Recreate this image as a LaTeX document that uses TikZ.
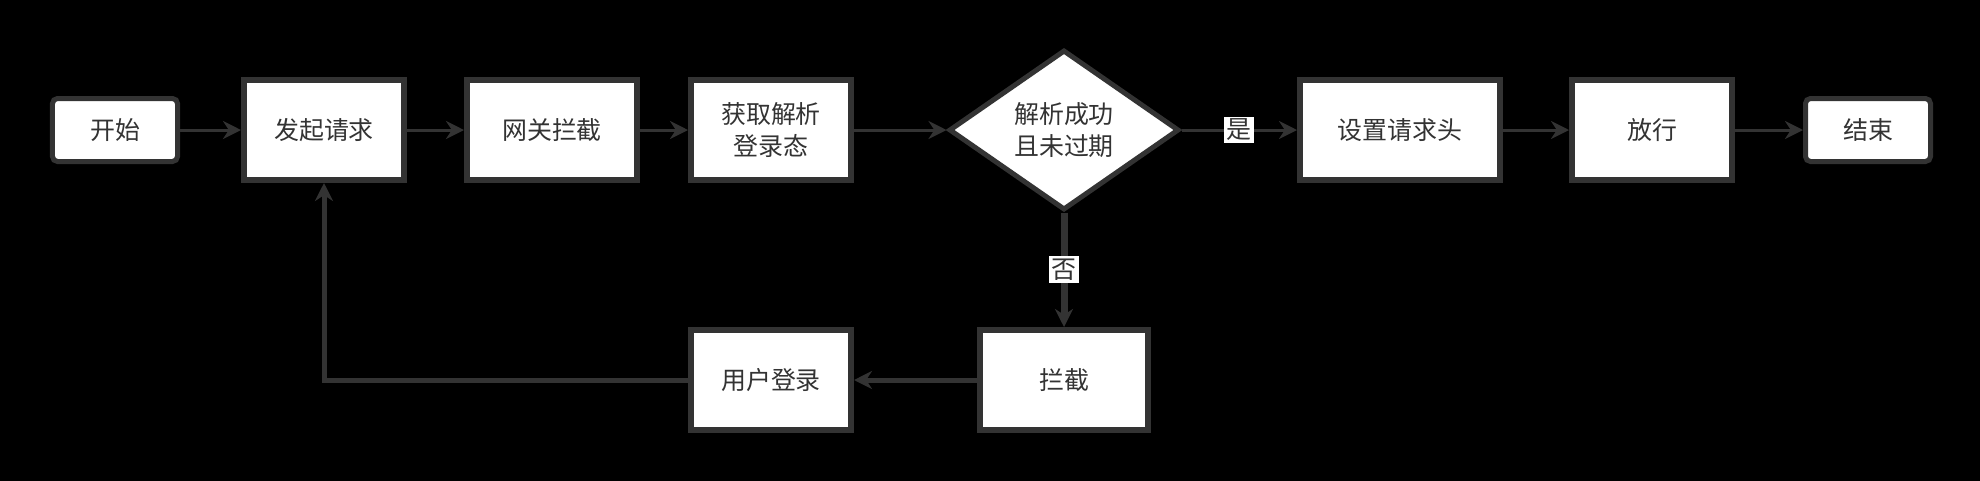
\documentclass[tikz,border=0pt]{standalone}
\usepackage{fontspec}
\setmainfont{Noto Sans CJK SC}
\usepackage{tikz}
\usetikzlibrary{shapes.geometric, shapes.misc, arrows, arrows.meta, calc}
\definecolor{linegray}{HTML}{333333}

\begin{document}
\begin{tikzpicture}[node distance=4.4cm, every node/.style={font=\fontsize{14.2pt}{18.2pt}\selectfont, text=linegray}]
%
% Skiss:
% 开始 -> 发起请求 -> 网关拦截 -> 获取解析登录态 -> 解析成功且未过期? -是-> 设置请求头 -> 放行 -> 结束
%            ʌ                                            |
%            |                                            否
%            |                                            V
%            -------------------------- 用户登录 <------ 拦截
%
\tikzstyle{startstop} = [rectangle, rounded corners=0.1cm, minimum width=2.5cm, minimum height=1.26cm, text centered, draw=linegray, fill=white, line width=0.1cm, align=center]
\tikzstyle{process} = [rectangle, minimum width=3.2cm, minimum height=2cm, text centered, draw=linegray, fill=white, line width=0.12cm, align=center]
\tikzstyle{decision} = [diamond, minimum width=4.6cm, minimum height=3.2cm, text centered, draw=linegray, fill=white, line width=0.1cm, align=center, inner sep=0pt]
\tikzstyle{arrow} = [line width=0.06cm, draw=linegray, ->, >={Stealth[length=0.36cm, width=0.36cm]}]
\tikzstyle{answer} = [fill=white, inner sep=0.05cm]
% Background
\useasboundingbox (-2.3,2.6) rectangle (37.3,-7.0);
\fill[black] (-2.4,2.7) rectangle (37.4,-7.1);
% Nodes
\node (start) [startstop] {开始};
\node (request) [process, right of=start, xshift=-0.22cm] {发起请求};
\node (gateway) [process, right of=request, xshift=0.16cm, minimum width=3.4cm] {网关拦截};
\node (parse) [process, right of=gateway, xshift=-0.02cm] {获取解析\\登录态};
\node (check) [decision, right of=parse, xshift=1.46cm] {解析成功\\且未过期};
\node (setHeader) [process, right of=check, xshift=2.32cm, minimum width=4cm] {设置请求头};
\node (pass) [process, right of=setHeader, xshift=0.64cm] {放行};
\node (end) [startstop, right of=pass, xshift=-0.08cm] {结束};
\node (block) [process, below of=check, yshift=-0.6cm, minimum width=3.35cm] {拦截};
\node (userLogin) [process, left of=block, xshift=-1.46cm] {用户登录};

% Arrows
\draw [arrow] (start) -- (request);
\draw [arrow] (request) -- (gateway);
\draw [arrow] (gateway) -- (parse);
\draw [arrow] (parse) -- (check);
\draw [arrow] (check) -- node[answer] {是} (setHeader);
\draw [arrow] (setHeader) -- (pass);
\draw [arrow] (pass) -- (end);
\draw [arrow, line width=0.14cm] (check) -- node[answer] {否} (block);
\draw [arrow, line width=0.1cm] (block) -- (userLogin);
\draw [arrow, line width=0.1cm] (userLogin) -| (request);

\end{tikzpicture}
\end{document}
